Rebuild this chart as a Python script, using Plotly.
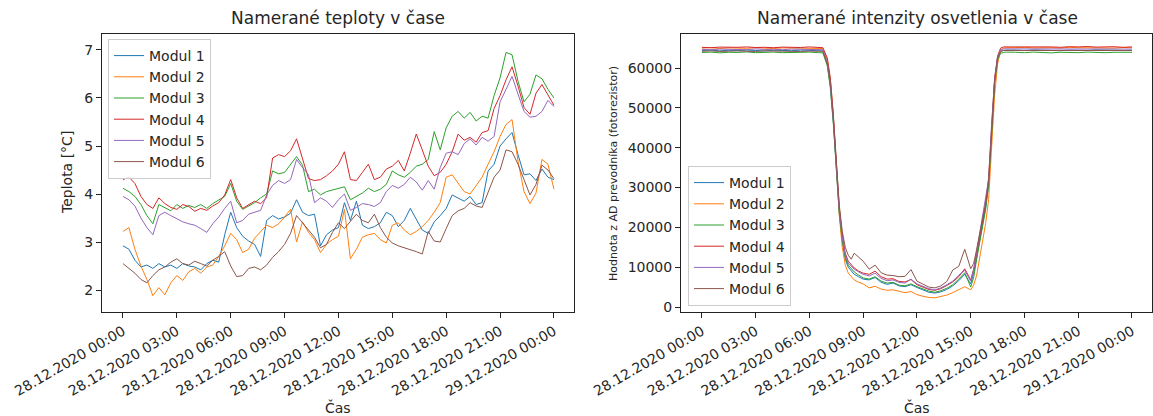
import pandas as pd
import plotly.graph_objects as go

# ---------------- DATA ----------------
modules = ["Modul 1", "Modul 2", "Modul 3", "Modul 4", "Modul 5", "Modul 6"]
colors = ["#1f77b4", "#ff7f0e", "#2ca02c", "#d62728", "#9467bd", "#8c564b"]

start = "2020-12-28 00:00"
tick_hours = [0, 3, 6, 9, 12, 15, 18, 21, 24]
tick_labels = ["28.12.2020 00:00", "28.12.2020 03:00", "28.12.2020 06:00",
               "28.12.2020 09:00", "28.12.2020 12:00", "28.12.2020 15:00",
               "28.12.2020 18:00", "28.12.2020 21:00", "29.12.2020 00:00"]

# temperature samples every 20 minutes
temp_minutes = list(range(0, 1441, 20))

temp_m1 = [2.92, 2.85, 2.62, 2.48, 2.52, 2.45, 2.55, 2.48, 2.52, 2.45, 2.55, 2.50,
           2.48, 2.42, 2.55, 2.62, 2.58, 3.15, 3.62, 3.30, 3.12, 3.02, 2.95, 2.70,
           3.45, 3.55, 3.48, 3.52, 3.60, 3.88, 3.62, 3.55, 3.58, 2.92, 3.15, 3.25,
           3.30, 3.82, 3.45, 3.85, 3.35, 3.28, 3.32, 3.40, 3.62, 3.55, 3.32, 3.45,
           3.70, 3.48, 3.25, 3.18, 3.42, 3.55, 3.70, 3.98, 3.92, 3.85, 3.95, 3.78,
           3.82, 4.48, 4.62, 5.00, 5.15, 5.28, 4.82, 4.40, 4.42, 4.28, 4.52, 4.35,
           4.30]
temp_m2 = [3.22, 3.30, 2.85, 2.50, 2.22, 1.88, 2.05, 1.90, 2.15, 2.30, 2.20, 2.38,
           2.45, 2.35, 2.48, 2.52, 2.70, 2.92, 3.18, 3.05, 2.78, 2.85, 3.08, 3.22,
           3.35, 3.30, 3.38, 3.52, 3.68, 3.00, 3.42, 3.20, 3.05, 2.78, 2.95, 3.05,
           3.12, 3.68, 2.65, 2.85, 3.10, 3.15, 3.18, 3.05, 2.98, 3.35, 3.40, 3.25,
           3.15, 3.22, 3.32, 3.45, 3.62, 3.82, 4.35, 4.40, 4.22, 4.05, 4.00, 4.18,
           4.35, 4.62, 4.88, 5.20, 5.45, 5.55, 4.68, 4.05, 3.80, 4.02, 4.72, 4.62,
           4.10]
temp_m3 = [4.12, 4.05, 3.95, 3.78, 3.55, 3.38, 3.78, 3.72, 3.65, 3.78, 3.70, 3.76,
           3.72, 3.78, 3.70, 3.80, 3.88, 3.95, 4.22, 3.85, 3.68, 3.75, 3.82, 3.92,
           4.00, 4.48, 4.42, 4.45, 4.62, 4.78, 4.60, 4.05, 4.10, 3.98, 4.05, 4.08,
           4.12, 4.15, 3.88, 3.95, 4.02, 4.12, 4.05, 4.10, 4.20, 4.48, 4.40, 4.35,
           4.45, 4.58, 4.62, 4.72, 5.30, 4.92, 5.38, 5.62, 5.72, 5.58, 5.70, 5.52,
           5.62, 5.58, 6.05, 6.42, 6.95, 6.90, 6.35, 5.92, 6.08, 6.48, 6.40, 6.18,
           6.00]
temp_m4 = [4.30, 4.35, 4.22, 3.95, 3.78, 3.70, 3.92, 3.80, 3.72, 3.68, 3.78, 3.74,
           3.64, 3.70, 3.66, 3.75, 3.82, 3.98, 4.30, 3.92, 3.70, 3.78, 3.85, 3.80,
           3.92, 4.75, 4.82, 4.78, 4.90, 5.15, 4.75, 4.32, 4.28, 4.30, 4.38, 4.48,
           4.62, 4.88, 4.30, 4.28, 4.45, 4.62, 4.30, 4.35, 4.52, 4.58, 4.70, 4.48,
           4.85, 5.25, 4.92, 4.58, 4.38, 4.45, 4.62, 4.88, 5.25, 5.12, 5.18, 5.08,
           5.28, 5.32, 5.78, 6.05, 6.38, 6.65, 6.25, 5.80, 5.66, 6.10, 6.28, 6.05,
           5.85]
temp_m5 = [3.95, 3.88, 3.75, 3.50, 3.30, 3.15, 3.55, 3.62, 3.55, 3.48, 3.42, 3.38,
           3.35, 3.28, 3.20, 3.38, 3.52, 3.70, 3.85, 3.40, 3.45, 3.58, 3.62, 3.66,
           3.98, 4.18, 4.28, 4.22, 4.30, 4.72, 4.55, 4.40, 3.82, 3.92, 3.85, 3.72,
           3.88, 4.00, 3.66, 3.72, 3.80, 3.78, 3.74, 3.82, 4.05, 4.18, 4.12, 4.20,
           4.35, 4.25, 4.08, 4.28, 4.10, 4.55, 4.85, 4.88, 4.82, 5.05, 5.15, 5.02,
           5.18, 5.10, 5.20, 5.92, 6.18, 6.45, 6.08, 5.72, 5.60, 5.62, 5.72, 5.95,
           5.82]
temp_m6 = [2.55, 2.45, 2.35, 2.22, 2.15, 2.30, 2.42, 2.48, 2.58, 2.65, 2.55, 2.52,
           2.60, 2.55, 2.50, 2.62, 2.70, 2.80, 2.50, 2.28, 2.30, 2.45, 2.48, 2.42,
           2.52, 2.68, 2.80, 2.95, 3.18, 3.55, 3.40, 3.25, 3.10, 2.88, 2.95, 3.20,
           3.40, 3.28, 3.42, 3.58, 3.45, 3.40, 3.58, 3.30, 3.10, 2.98, 2.92, 2.88,
           2.85, 2.80, 2.75, 3.22, 3.02, 3.00, 3.28, 3.55, 3.65, 3.70, 3.82, 3.75,
           3.72, 4.05, 4.35, 4.50, 4.92, 4.88, 4.62, 4.30, 3.98, 4.20, 4.60, 4.50,
           4.32]

# light samples (minutes after midnight)
light_minutes = [0, 30, 60, 90, 120, 150, 180, 210, 240, 270, 300, 330, 360, 390,
                 405, 420, 430, 440, 450, 460, 470, 480, 490, 500, 510, 525, 540,
                 560, 580, 600, 620, 640, 660, 680, 700, 720, 740, 760, 780, 800,
                 820, 840, 860, 880, 900,
                 910, 920, 930, 940, 950, 960, 970, 980, 990, 1000, 1010, 1020,
                 1050, 1080, 1110, 1140, 1170, 1200, 1230, 1260, 1290, 1320, 1350,
                 1380, 1410, 1440]

light_m1 = [64400, 64500, 64300, 64450, 64350, 64500, 64400, 64300, 64450, 64400, 64350, 64500, 64400, 64300,
            64300, 61000, 55500, 46500, 34500, 23500, 16500, 12000, 10000, 9000, 8200, 7600, 7000,
            6800, 7400, 6200, 5700, 6000, 5300, 5100, 5600, 4900, 4300, 3700, 3500, 3800, 4400, 5300, 6600, 8200, 5800,
            8500, 12500, 17000, 21000, 25000, 31000, 45000, 56500, 62500, 64200, 64400, 64500,
            64500, 64400, 64550, 64450, 64500, 64350, 64500, 64450, 64400, 64550, 64450, 64500, 64400, 64450]
light_m2 = [65000, 65100, 64900, 65050, 65000, 64950, 65100, 65000, 64900, 65050, 65000, 65100, 64950, 65000,
            64900, 62000, 57000, 48000, 35500, 23000, 15000, 10500, 8500, 7500, 6800, 6200, 5800,
            4800, 5200, 4500, 4200, 4300, 3900, 3600, 3900, 3100, 2700, 2400, 2300, 2600, 3000, 3600, 4300, 5100, 4300,
            5500, 8000, 12000, 16500, 21000, 27000, 40000, 53000, 61000, 64500, 65000, 65100,
            65100, 65200, 65050, 65150, 65100, 65000, 65200, 65100, 65050, 65150, 65100, 65000, 65150, 65100]
light_m3 = [63900, 64000, 63800, 63950, 63900, 64050, 63850, 63900, 64000, 63850, 63950, 63900, 64000, 63850,
            63800, 60500, 55000, 46000, 34000, 23500, 16800, 12500, 10500, 9500, 8800, 8000, 7300,
            7000, 7600, 6500, 6000, 6200, 5500, 5300, 5800, 5100, 4500, 4000, 3700, 4100, 4700, 5600, 7000, 8600, 5000,
            7500, 12000, 16500, 20500, 24500, 30500, 44500, 56000, 62000, 63700, 63900, 64000,
            63950, 63850, 64000, 63900, 63800, 63950, 63900, 63850, 64000, 63900, 63850, 63950, 63900, 63950]
light_m4 = [65200, 65100, 65250, 65150, 65200, 65300, 65150, 65200, 65100, 65250, 65200, 65150, 65300, 65200,
            65100, 62500, 57500, 48500, 36500, 25000, 18000, 13500, 11500, 10500, 9800, 9000, 8500,
            8200, 9000, 7600, 7000, 7100, 6400, 6300, 6900, 5600, 5000, 4400, 4200, 4600, 5400, 6300, 7600, 9600, 6800,
            9500, 13500, 18000, 22000, 26000, 32500, 46500, 57500, 63000, 65000, 65300, 65300,
            65300, 65400, 65250, 65350, 65300, 65200, 65350, 65300, 65400, 65250, 65300, 65350, 65200, 65300]
light_m5 = [64700, 64600, 64750, 64650, 64700, 64600, 64800, 64650, 64700, 64600, 64750, 64700, 64650, 64700,
            64600, 61500, 56000, 47000, 35500, 24500, 17500, 13000, 11000, 10200, 9500, 8800, 8200,
            7800, 8500, 7200, 6600, 6800, 6200, 6000, 7000, 5800, 5200, 4600, 4300, 4800, 5600, 6500, 8000, 9200, 6500,
            9500, 14000, 18500, 22500, 26500, 32000, 46000, 57000, 62800, 64600, 64800, 64800,
            64800, 64700, 64850, 64750, 64800, 64700, 64850, 64800, 64700, 64750, 64800, 64700, 64850, 64750]
light_m6 = [64200, 64300, 64150, 64250, 64300, 64200, 64150, 64300, 64250, 64200, 64300, 64150, 64250, 64200,
            64200, 61000, 56500, 47500, 36000, 25500, 19000, 15000, 13000, 12000, 13500, 12500, 11500,
            9500, 10500, 8600, 8000, 7900, 7600, 7700, 9400, 6500, 5700, 5000, 4800, 5300, 6400, 9300, 10200, 14500, 9600,
            11000, 14500, 18500, 22500, 26000, 31500, 45500, 56500, 62500, 64200, 64400, 64400,
            64400, 64300, 64450, 64350, 64400, 64300, 64450, 64350, 64400, 64300, 64350, 64450, 64300, 64400]

temps = [temp_m1, temp_m2, temp_m3, temp_m4, temp_m5, temp_m6]
lights = [light_m1, light_m2, light_m3, light_m4, light_m5, light_m6]

# ---------------- FIGURE ----------------
t0 = pd.Timestamp(start)
temp_t = [t0 + pd.Timedelta(minutes=m) for m in temp_minutes]
light_t = [t0 + pd.Timedelta(minutes=m) for m in light_minutes]
tick_t = [t0 + pd.Timedelta(hours=h) for h in tick_hours]

W, H = 1153, 416
FONT = "DejaVu Sans"
TXT = "#262626"

fig = go.Figure()
for name, col, vals in zip(modules, colors, temps):
    fig.add_trace(go.Scatter(x=temp_t, y=vals, mode="lines", name=name,
                             line=dict(color=col, width=1), xaxis="x", yaxis="y",
                             legend="legend"))
for name, col, vals in zip(modules, colors, lights):
    fig.add_trace(go.Scatter(x=light_t, y=vals, mode="lines", name=name,
                             line=dict(color=col, width=1), xaxis="x2", yaxis="y2",
                             legend="legend2"))

xr = [t0 - pd.Timedelta(minutes=70), t0 + pd.Timedelta(hours=24, minutes=67)]

axis_common = dict(showline=True, linecolor="#222", linewidth=1, mirror=True,
                   ticks="outside", ticklen=5, tickwidth=1, tickcolor="#222",
                   showgrid=False, zeroline=False, automargin=False,
                   tickfont=dict(family=FONT, size=14, color=TXT))

def px_x(p):
    return p / W

def px_y(p):
    return 1 - p / H

fig.update_layout(
    width=W, height=H,
    margin=dict(l=0, r=0, t=0, b=0, autoexpand=False),
    paper_bgcolor="white", plot_bgcolor="white",
    font=dict(family=FONT, size=14, color=TXT),
    xaxis=dict(domain=[px_x(102), px_x(574)], anchor="y", range=xr,
               tickmode="array", tickvals=tick_t, ticktext=tick_labels,
               tickangle=-30, **axis_common),
    yaxis=dict(domain=[px_y(312), px_y(34)], anchor="x", range=[1.542, 7.333],
               tickmode="array", tickvals=[2, 3, 4, 5, 6, 7], **axis_common),
    xaxis2=dict(domain=[px_x(681), px_x(1152)], anchor="y2", range=xr,
                tickmode="array", tickvals=tick_t, ticktext=tick_labels,
                tickangle=-30, **axis_common),
    yaxis2=dict(domain=[px_y(312), px_y(34)], anchor="x2", range=[-1255, 68540],
                tickmode="array", tickvals=[0, 10000, 20000, 30000, 40000, 50000, 60000],
                tickformat="d", **axis_common),
    legend=dict(x=px_x(108), y=px_y(39), xanchor="left", yanchor="top",
                bgcolor="rgba(255,255,255,0.8)", bordercolor="#cccccc", borderwidth=1,
                font=dict(family=FONT, size=14, color=TXT)),
    legend2=dict(x=px_x(688), y=px_y(306), xanchor="left", yanchor="bottom",
                 bgcolor="rgba(255,255,255,0.8)", bordercolor="#cccccc", borderwidth=1,
                 font=dict(family=FONT, size=14, color=TXT)),
    showlegend=True,
)

ann = [
    dict(text="Namerané teploty v čase", x=px_x(338), y=px_y(18), font=dict(size=17)),
    dict(text="Namerané intenzity osvetlenia v čase", x=px_x(917), y=px_y(18), font=dict(size=17)),
    dict(text="Čas", x=px_x(338), y=px_y(407), font=dict(size=14)),
    dict(text="Čas", x=px_x(917), y=px_y(407), font=dict(size=14)),
    dict(text="Teplota [°C]", x=px_x(67), y=px_y(173), textangle=-90, font=dict(size=14)),
    dict(text="Hodnota z AD prevodníka (fotorezistor)", x=px_x(613), y=px_y(173),
         textangle=-90, font=dict(size=11)),
]
for a in ann:
    fig.add_annotation(xref="paper", yref="paper", showarrow=False,
                       xanchor="center", yanchor="middle",
                       text=a["text"], x=a["x"], y=a["y"],
                       textangle=a.get("textangle", 0),
                       font=dict(family=FONT, color=TXT, size=a["font"]["size"]))

fig.write_html("out.html")
